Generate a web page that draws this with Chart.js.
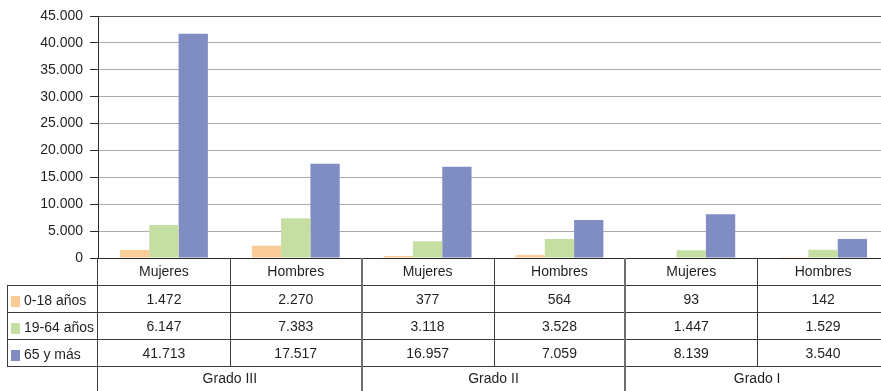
<!DOCTYPE html>
<html><head><meta charset="utf-8">
<script src="https://cdn.jsdelivr.net/npm/chart.js@4"></script>
<style>html,body{margin:0;padding:0;background:#fff;overflow:hidden;width:881px;height:391px}#wrap{width:889px;height:391px;position:relative}</style>
</head><body><div id="wrap"><canvas id="c"></canvas></div>
<script>
// ---- data ----
const categories = ['Mujeres', 'Hombres', 'Mujeres', 'Hombres', 'Mujeres', 'Hombres'];
const groups = ['Grado III', 'Grado II', 'Grado I'];
const seriesLabels = ['0-18 años', '19-64 años', '65 y más'];
const age0to18 = [1472, 2270, 377, 564, 93, 142];
const age19to64 = [6147, 7383, 3118, 3528, 1447, 1529];
const age65plus = [41713, 17517, 16957, 7059, 8139, 3540];
const yTicks = [0, 5000, 10000, 15000, 20000, 25000, 30000, 35000, 40000, 45000];

const seriesValues = [age0to18, age19to64, age65plus];
const seriesColors = ['#FBCB98', '#C5DFA2', '#7F8DC2'];

function fmt(v){ return String(v).replace(/\B(?=(\d{3})+(?!\d))/g, '.'); }

const FAMILY = "'Liberation Sans', Arial";
const FSIZE = 14;
const TXT = '#231f20';
Chart.defaults.font.family = FAMILY;
Chart.defaults.font.size = FSIZE;
Chart.defaults.color = TXT;

const tablePlugin = {
  id: 'dataTable',
  afterDraw(chart){
    const {ctx, chartArea: a, scales: {x}} = chart;
    const n = categories.length;
    const w = (a.right - a.left) / n;
    const L = a.left, T = a.bottom;
    const rowH = 27;
    const rows = [T, T + rowH, T + 2*rowH, T + 3*rowH, T + 4*rowH];
    const B = chart.height;
    const W = chart.width;
    ctx.save();
    ctx.font = FSIZE + 'px ' + FAMILY;
    ctx.fillStyle = TXT;
    ctx.strokeStyle = '#3a3a3a';
    ctx.lineWidth = 1;
    for (let r = 1; r <= 4; r++){
      const y = Math.round(rows[r]) + 0.5;
      ctx.beginPath(); ctx.moveTo(7, y); ctx.lineTo(W, y); ctx.stroke();
    }
    ctx.beginPath(); ctx.moveTo(7.5, rows[1]); ctx.lineTo(7.5, rows[4] + 1); ctx.stroke();
    for (let i = 0; i <= n; i++){
      const xx = L + i * w;
      if (i === 0){
        ctx.strokeStyle = '#3a3a3a'; ctx.lineWidth = 1;
        ctx.beginPath(); ctx.moveTo(Math.round(xx) - 0.5, T); ctx.lineTo(Math.round(xx) - 0.5, B); ctx.stroke();
      } else if (i % 2 === 0){
        ctx.strokeStyle = '#6e6e6e'; ctx.lineWidth = 2;
        ctx.beginPath(); ctx.moveTo(Math.round(xx), T); ctx.lineTo(Math.round(xx), B); ctx.stroke();
      } else {
        ctx.strokeStyle = '#3a3a3a'; ctx.lineWidth = 1;
        ctx.beginPath(); ctx.moveTo(Math.round(xx) + 0.5, T); ctx.lineTo(Math.round(xx) + 0.5, rows[4]); ctx.stroke();
      }
    }
    ctx.textAlign = 'center'; ctx.textBaseline = 'middle';
    categories.forEach((c, i) => {
      ctx.fillText(c, x.getPixelForValue(i), (rows[0] + rows[1]) / 2 + 1);
    });
    seriesValues.forEach((vals, s) => {
      const yc = (rows[s+1] + rows[s+2]) / 2 + 1.5;
      vals.forEach((v, i) => ctx.fillText(fmt(v), x.getPixelForValue(i), yc));
    });
    groups.forEach((g, k) => {
      const cx = L + (2*k + 1) * w;
      ctx.fillText(g, cx, (rows[4] + B) / 2 + 1);
    });
    ctx.textAlign = 'left';
    seriesLabels.forEach((lab, s) => {
      const top = rows[s+1];
      ctx.fillStyle = seriesColors[s];
      ctx.fillRect(11, top + 11, 9, 11);
      ctx.fillStyle = TXT;
      ctx.fillText(lab, 24, top + 16.5);
    });
    ctx.restore();
  }
};

new Chart(document.getElementById('c'), {
  type: 'bar',
  data: {
    labels: categories,
    datasets: seriesLabels.map((lab, s) => ({
      label: lab,
      data: seriesValues[s],
      backgroundColor: seriesColors[s],
      borderWidth: 0,
      categoryPercentage: 0.667,
      barPercentage: 1.0
    }))
  },
  options: {
    responsive: true,
    maintainAspectRatio: false,
    animation: false,
    devicePixelRatio: 1,
    layout: { padding: { top: 16, left: 0, right: 0, bottom: 133 } },
    plugins: { legend: { display: false }, tooltip: { enabled: false } },
    scales: {
      x: {
        ticks: { display: false },
        grid: { display: false, drawTicks: false },
        border: { display: true, color: '#2b2b2b', width: 1 }
      },
      y: {
        min: 0, max: 45000,
        afterBuildTicks(scale){ scale.ticks = yTicks.map(v => ({ value: v })); },
        afterFit(scale){ scale.width = 98; },
        ticks: { padding: 7, callback: v => fmt(v), color: TXT },
        grid: {
          color: ctx => (ctx.tick && (ctx.tick.value === 45000)) ? '#555' : '#ababab',
          tickColor: '#2b2b2b',
          tickLength: 8,
          lineWidth: 1
        },
        border: { display: true, color: '#2b2b2b', width: 1 }
      }
    }
  },
  plugins: [tablePlugin]
});
</script>
</body></html>
